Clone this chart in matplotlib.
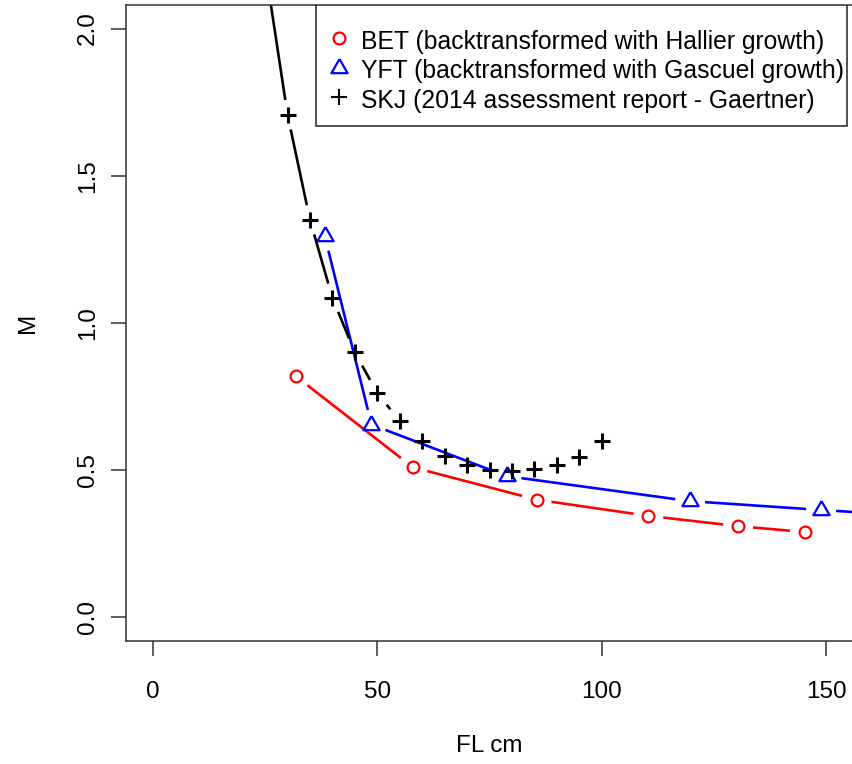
import numpy as np
import matplotlib
matplotlib.use("Agg")
import matplotlib.pyplot as plt
from matplotlib.lines import Line2D
from matplotlib.patches import Rectangle

plt.rcParams['font.family'] = ['Liberation Sans', 'DejaVu Sans']

# natural mortality by fork length
bet_fl = [31.8, 57.9, 85.5, 110.4, 130.4, 145.3]
bet_m = [0.82, 0.51, 0.40, 0.345, 0.31, 0.29]

yft_fl = [38.3, 48.7, 78.8, 119.7, 148.9, 175.0]
yft_m = [1.295, 0.655, 0.48, 0.395, 0.365, 0.34]

skj_fl = [25, 30, 35, 40, 45, 50, 55, 60, 65, 70, 75, 80, 85, 90, 95, 100]
skj_m = [2.21, 1.707, 1.35, 1.085, 0.90, 0.762, 0.667, 0.599, 0.548,
         0.517, 0.50, 0.497, 0.503, 0.517, 0.544, 0.599]

labels = ["BET (backtransformed with Hallier growth)",
          "YFT (backtransformed with Gascuel growth)",
          "SKJ (2014 assessment report - Gaertner)"]

FS = 17.5
tri = [(0, 1), (-0.866, -0.5), (0.866, -0.5), (0, 1)]


def plot_b(ax, x, y, color, marker, ms, mew, gap=15, lw=1.9):
    # points joined by lines that stop short of each point
    pts = ax.transData.transform(np.column_stack([x, y]))
    inv = ax.transData.inverted()
    for p0, p1 in zip(pts[:-1], pts[1:]):
        d = p1 - p0
        L = np.hypot(d[0], d[1])
        if L <= 2 * gap:
            continue
        u = d / L
        seg = inv.transform(np.array([p0 + u * gap, p1 - u * gap]))
        ax.plot(seg[:, 0], seg[:, 1], color=color, lw=lw,
                solid_capstyle='butt')
    ax.plot(x, y, ls='none', marker=marker, ms=ms, mew=mew,
            mec=color, mfc='none')


fig = plt.figure(figsize=(8.52, 7.64), dpi=100)
ax = fig.add_axes([126 / 852, 1 - 641 / 764, 727 / 852, 636 / 764])
ax.set_xlim(-6, 156)
ax.set_ylim(-0.08, 2.08)

plot_b(ax, bet_fl, bet_m, 'red', 'o', 8.5, 1.6)
plot_b(ax, yft_fl, yft_m, 'blue', tri, 13.5, 1.6)
plot_b(ax, skj_fl, skj_m, 'black', '+', 11.5, 2.2)

ax.set_xticks([0, 50, 100, 150])
ax.set_yticks([0.0, 0.5, 1.0, 1.5, 2.0])
ax.set_yticklabels(["0.0", "0.5", "1.0", "1.5", "2.0"], rotation=90,
                   va='center')
ax.tick_params(length=10.5, width=1.1, color='#333333', labelsize=FS)
ax.tick_params(axis='x', pad=18)
ax.tick_params(axis='y', pad=9)
for s in ax.spines.values():
    s.set_linewidth(1.1)
    s.set_color('#333333')

ax.set_xlabel("FL cm", fontsize=FS, labelpad=23)
ax.set_ylabel("M", fontsize=FS, labelpad=27)

# legend box in the top right corner
ax.add_patch(Rectangle((0.2613, 0.8097), 0.7304, 0.1903,
                       transform=ax.transAxes, facecolor='white',
                       edgecolor='#222222', lw=1.1, zorder=4))
handles = [
    Line2D([], [], ls='none', marker='o', ms=8.5, mew=1.6, mec='red', mfc='none'),
    Line2D([], [], ls='none', marker=tri, ms=13.5, mew=1.6, mec='blue', mfc='none'),
    Line2D([], [], ls='none', marker='+', ms=11.5, mew=1.5, mec='black'),
]
leg = ax.legend(handles, labels, loc='upper left',
                bbox_to_anchor=((333 - 126) / 727, (641 - 28) / 636),
                fontsize=17.8, frameon=False, handlelength=0.5,
                handleheight=1.17, handletextpad=0.62, labelspacing=0.15,
                borderpad=0, borderaxespad=0)
leg.set_zorder(5)

fig.savefig("out.png", dpi=100)
